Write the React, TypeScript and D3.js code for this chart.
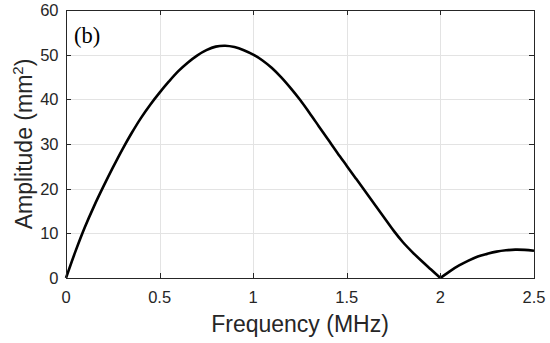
import React, { useEffect, useRef } from 'react';
import * as d3 from 'd3';

// frequency (MHz)
const freq = [
  0, 0.05, 0.1, 0.15, 0.2, 0.25, 0.3, 0.35, 0.4, 0.45, 0.5, 0.55, 0.6, 0.65, 0.7, 0.75, 0.8, 0.85, 0.9, 0.95,
  1, 1.05, 1.1, 1.15, 1.2, 1.25, 1.3, 1.35, 1.4, 1.45, 1.5, 1.55, 1.6, 1.65, 1.7, 1.75, 1.8, 1.85, 1.9, 1.95,
  2, 2.05, 2.1, 2.15, 2.2, 2.25, 2.3, 2.35, 2.4, 2.45, 2.5,
];
// amplitude (mm^2)
const amplitude = [
  0, 5.9, 11.3, 16.1, 20.5, 24.7, 28.7, 32.4, 35.8, 38.8, 41.5, 44.0, 46.3, 48.2, 49.8, 51.0, 51.8, 52.0, 51.7, 51.0,
  50.0, 48.7, 47.0, 44.9, 42.5, 39.9, 37.0, 34.0, 31.0, 28.0, 25.1, 22.2, 19.3, 16.4, 13.5, 10.6, 8.0, 5.8, 3.8, 1.9,
  0, 1.5, 2.8, 3.9, 4.8, 5.4, 5.9, 6.2, 6.35, 6.3, 6.1,
];
const xTicks = [0, 0.5, 1, 1.5, 2, 2.5];
const xTickLabels = ['0', '0.5', '1', '1.5', '2', '2.5'];
const yTicks = [0, 10, 20, 30, 40, 50, 60];

export default function App() {
  const svgRef = useRef<SVGSVGElement>(null);

  useEffect(() => {
    const svg = d3.select(svgRef.current);
    svg.selectAll('*').remove();

    const left = 66, right = 534, top = 10, bottom = 278;
    const axisColor = '#262626';
    const font = '"Liberation Sans", Arial, Helvetica, sans-serif';

    const x = d3.scaleLinear().domain([0, 2.5]).range([left, right]);
    const y = d3.scaleLinear().domain([0, 60]).range([bottom, top]);

    svg.append('rect')
      .attr('width', 550).attr('height', 343).attr('fill', '#fff');

    // grid
    const grid = svg.append('g').attr('stroke', '#e3e3e3').attr('stroke-width', 1);
    xTicks.slice(1, -1).forEach(t => {
      grid.append('line')
        .attr('x1', Math.round(x(t)) + 0.5).attr('x2', Math.round(x(t)) + 0.5)
        .attr('y1', top).attr('y2', bottom);
    });
    yTicks.slice(1, -1).forEach(t => {
      grid.append('line')
        .attr('x1', left).attr('x2', right)
        .attr('y1', Math.round(y(t)) + 0.5).attr('y2', Math.round(y(t)) + 0.5);
    });

    // the curve, split at the zero so the cusp stays sharp
    const points: [number, number][] = freq.map((f, i) => [f, amplitude[i]]);
    const cusp = freq.indexOf(2);
    const line = d3.line<[number, number]>()
      .x(d => x(d[0]))
      .y(d => y(d[1]))
      .curve(d3.curveCatmullRom.alpha(0.5));
    [points.slice(0, cusp + 1), points.slice(cusp)].forEach(seg => {
      svg.append('path')
        .datum(seg)
        .attr('d', line)
        .attr('fill', 'none')
        .attr('stroke', '#000')
        .attr('stroke-width', 2.6)
        .attr('stroke-linejoin', 'round');
    });

    // box + inward ticks on all four sides
    const box = svg.append('g').attr('stroke', axisColor).attr('stroke-width', 1).attr('fill', 'none');
    box.append('rect')
      .attr('x', left + 0.5).attr('y', top + 0.5)
      .attr('width', right - left).attr('height', bottom - top);
    const tickLen = 5;
    xTicks.forEach(t => {
      const px = Math.round(x(t)) + 0.5;
      box.append('line').attr('x1', px).attr('x2', px).attr('y1', bottom).attr('y2', bottom - tickLen);
      box.append('line').attr('x1', px).attr('x2', px).attr('y1', top).attr('y2', top + tickLen);
    });
    yTicks.forEach(t => {
      const py = Math.round(y(t)) + 0.5;
      box.append('line').attr('x1', left).attr('x2', left + tickLen).attr('y1', py).attr('y2', py);
      box.append('line').attr('x1', right).attr('x2', right - tickLen).attr('y1', py).attr('y2', py);
    });

    // tick labels
    svg.append('g')
      .selectAll('text')
      .data(xTicks)
      .enter().append('text')
      .attr('x', d => x(d))
      .attr('y', 302.5)
      .attr('text-anchor', 'middle')
      .attr('font-family', font)
      .attr('font-size', 16.5)
      .attr('fill', axisColor)
      .text((d, i) => xTickLabels[i]);

    svg.append('g')
      .selectAll('text')
      .data(yTicks)
      .enter().append('text')
      .attr('x', 58.5)
      .attr('y', d => y(d) + 6)
      .attr('text-anchor', 'end')
      .attr('font-family', font)
      .attr('font-size', 16.5)
      .attr('fill', axisColor)
      .text(d => String(d));

    // axis titles
    svg.append('text')
      .attr('x', (left + right) / 2)
      .attr('y', 332)
      .attr('text-anchor', 'middle')
      .attr('font-family', font)
      .attr('font-size', 23)
      .attr('fill', axisColor)
      .text('Frequency (MHz)');

    const yTitle = svg.append('text')
      .attr('transform', `translate(32,${(top + bottom) / 2}) rotate(-90)`)
      .attr('text-anchor', 'middle')
      .attr('font-family', font)
      .attr('font-size', 23)
      .attr('fill', axisColor);
    yTitle.append('tspan').text('Amplitude (mm');
    yTitle.append('tspan').attr('font-size', 15).attr('dy', -9).text('2');
    yTitle.append('tspan').attr('dy', 9).text(')');

    // panel label
    svg.append('text')
      .attr('x', 74)
      .attr('y', 43)
      .attr('font-family', '"Liberation Serif", "Times New Roman", serif')
      .attr('font-size', 22.5)
      .attr('fill', '#000')
      .text('(b)');
  }, []);

  return (
    <svg
      ref={svgRef}
      width={550}
      height={343}
      style={{ position: 'absolute', left: 0, top: 0, display: 'block' }}
    />
  );
}
